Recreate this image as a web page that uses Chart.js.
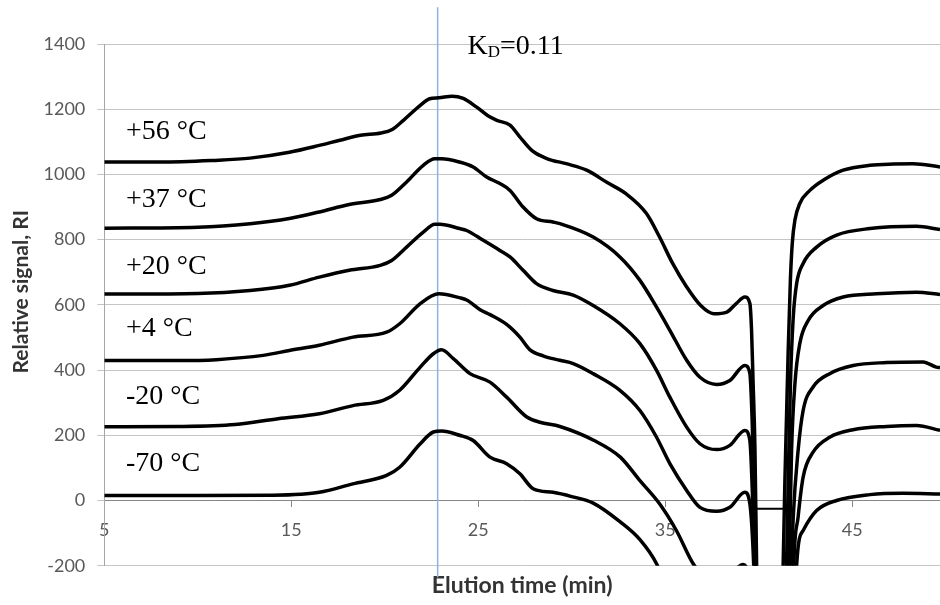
<!DOCTYPE html>
<html>
<head>
<meta charset="utf-8">
<title>Relative signal vs elution time</title>
<script src="https://cdn.jsdelivr.net/npm/chart.js@4.4.1/dist/chart.umd.min.js"></script>
<style>
  html, body { margin: 0; padding: 0; background: #fff; }
  canvas { display: block; }
</style>
</head>
<body>
<canvas id="ri" width="940" height="605"></canvas>
<script>
// axis ticks
const xTicks = [5, 15, 25, 35, 45]
const yTickStep = 200

// one trace per storage temperature: elution time (min) and RI signal
const t56  = [5, 8, 10.8, 12.8, 14.9, 16.5, 17.6, 18.7, 19.8, 20.4, 21.0, 21.9, 22.4, 22.9, 23.6, 24.2, 24.9, 25.5, 26.0, 26.7, 27.2, 27.9, 28.7, 29.7, 30.8, 31.9, 32.9, 34.0, 34.7, 35.4, 36.15, 36.9, 37.6, 38.3, 38.8, 39.26, 39.53, 39.62, 39.7, 39.8, 39.89, 40.05, 41.15, 41.31, 41.4, 41.49, 41.58, 41.7, 41.8, 41.94, 42.2, 42.74, 43.45, 44.52, 45.95, 47.2, 48.26, 49.7]
const ri56 = [1038, 1038, 1043, 1050, 1068, 1089, 1105, 1120, 1127, 1138, 1166, 1212, 1232, 1235, 1240, 1233, 1207, 1181, 1166, 1151, 1117, 1072, 1048, 1033, 1013, 975, 941, 880, 808, 727, 655, 598, 573, 578, 604, 624, 604, 522, 368, 164, -194, -800, -800, -200, 51, 256, 460, 680, 790, 860, 911, 951, 982, 1013, 1028, 1032, 1033, 1023]

const t37  = [5, 10, 12.8, 14.9, 16.5, 18.1, 19.76, 20.37, 21.17, 22.06, 22.68, 23.04, 24.0, 24.73, 25.45, 26.16, 26.7, 27.4, 28.12, 29.0, 29.37, 31.15, 32.58, 33.65, 34.54, 35.25, 36.15, 36.86, 37.75, 38.46, 39.26, 39.53, 39.65, 39.8, 39.92, 40.05, 41.3, 41.49, 41.58, 41.7, 41.85, 42.03, 42.38, 43.1, 44.17, 45.95, 48.44, 49.7]
const ri37 = [835, 838, 849, 865, 885, 908, 923, 936, 977, 1028, 1048, 1048, 1038, 1023, 992, 972, 951, 900, 864, 854, 849, 808, 747, 675, 593, 522, 430, 378, 356, 368, 414, 390, 250, -50, -400, -800, -800, -200, 51, 358, 562, 665, 727, 777, 814, 834, 841, 831]

const t20  = [5, 10, 12.8, 14.9, 16.5, 18.1, 19.76, 20.37, 21.17, 22.06, 22.68, 22.95, 24.0, 24.38, 25.27, 26.16, 26.7, 27.4, 28.12, 29.0, 30.08, 31.15, 32.58, 33.65, 34.54, 35.25, 36.15, 36.86, 37.75, 38.46, 39.26, 39.53, 39.68, 39.85, 40.0, 41.45, 41.63, 41.76, 41.94, 42.2, 42.65, 43.45, 44.52, 46.3, 48.44, 49.7]
const ri20 = [633, 635, 644, 660, 685, 706, 721, 736, 777, 823, 847, 847, 834, 828, 798, 767, 747, 706, 665, 644, 630, 598, 542, 481, 399, 317, 225, 174, 156, 169, 215, 184, 0, -300, -800, -800, -200, 153, 358, 481, 552, 598, 624, 634, 639, 632]

const t04  = [5, 9, 11, 13.5, 14.9, 16.5, 18.3, 20.1, 20.8, 21.9, 22.9, 24.0, 24.38, 25.1, 25.63, 26.52, 27.23, 27.77, 28.5, 29.37, 30.08, 31.15, 32.58, 33.65, 34.54, 35.25, 36.15, 36.86, 37.75, 38.46, 39.26, 39.53, 39.7, 39.85, 40.0, 41.55, 41.76, 41.85, 42.11, 42.38, 42.91, 43.8, 45.05, 46.84, 48.8, 49.5, 49.7]
const ri04 = [429, 429, 432, 445, 460, 476, 501, 516, 542, 604, 634, 622, 615, 585, 570, 540, 501, 462, 443, 430, 420, 389, 338, 276, 194, 113, 31, -21, -33, -21, 25, -10, -150, -400, -800, -800, -200, -51, 153, 276, 348, 389, 414, 423, 425, 409, 408]

const tm20  = [5, 9, 12, 14.3, 16.5, 18.3, 19.92, 20.8, 21.9, 22.6, 23.04, 23.67, 24.56, 25.63, 26.52, 27.6, 28.3, 29.37, 31.2, 32.6, 33.65, 34.7, 35.6, 36.5, 37.0, 37.75, 38.46, 39.17, 39.45, 39.7, 40.0, 41.65, 41.88, 42.11, 42.38, 42.91, 43.8, 45.05, 46.84, 48.44, 49.7]
const rim20 = [226, 227, 233, 251, 266, 291, 307, 338, 409, 450, 462, 435, 389, 363, 317, 256, 240, 227, 184, 133, 61, -10, -92, -194, -225, -235, -225, -196, -240, -600, -900, -900, -200, -51, 72, 148, 194, 217, 227, 230, 215]

const tm70  = [5, 10, 14, 15.5, 16.5, 18.3, 20.1, 20.8, 21.9, 22.6, 23.04, 24.0, 24.73, 25.63, 26.52, 27.23, 27.94, 29.0, 30.0, 31.15, 32.58, 33.65, 34.54, 35.5, 36.5, 37.75, 38.5, 39.17, 39.5, 39.8, 41.8, 42.03, 42.38, 43.1, 44.17, 45.95, 47.73, 49.7]
const rim70 = [15, 15, 16, 19, 25, 51, 77, 102, 174, 210, 213, 200, 184, 133, 113, 82, 36, 25, 12, -8, -65, -120, -194, -330, -420, -440, -425, -395, -450, -900, -900, -200, -92, -31, 0, 18, 22, 20]

// short flat piece between the two steep flanks
const tFlat  = [39.9, 41.32]
const riFlat = [-25, -25]

// K_D = 0.11 marker
const tKd  = [22.83, 22.83]
const riKd = [1513, -236]

const tempLabels = ['+56 °C', '+37 °C', '+20 °C', '+4 °C', '-20 °C', '-70 °C']
const labelT = 6.16
const labelRI = [1110, 900, 695, 505, 295, 90]
const kdText = { t: 24.43, ri: 1368 }

function pts(xs, ys) {
    return xs.map((v, i) => ({ x: v, y: ys[i] }))
}

function trace(xs, ys) {
    return {
        data: pts(xs, ys),
        xAxisID: 'x',
        borderColor: '#000',
        borderWidth: 3.5,
        pointRadius: 0,
        cubicInterpolationMode: 'monotone'
    }
}

const datasets = [
    trace(t56, ri56),
    trace(t37, ri37),
    trace(t20, ri20),
    trace(t04, ri04),
    trace(tm20, rim20),
    trace(tm70, rim70),
    { data: pts(tFlat, riFlat), xAxisID: 'x', borderColor: '#000', borderWidth: 2, pointRadius: 0 },
    { data: pts(tKd, riKd), xAxisID: 'x', borderColor: '#8db3e2', borderWidth: 1.5, pointRadius: 0, clip: false }
]

// temperature labels, K_D note and the y title
const annotate = {
    id: 'annotate',
    afterDatasetsDraw(chart) {
        const { ctx, chartArea } = chart
        const x = chart.scales.x
        const y = chart.scales.y
        ctx.save()
        ctx.fillStyle = '#000'
        ctx.textAlign = 'left'
        ctx.textBaseline = 'alphabetic'
        ctx.font = '28px "Liberation Serif"'
        tempLabels.forEach((s, i) => {
            ctx.fillText(s, x.getPixelForValue(labelT), y.getPixelForValue(labelRI[i]))
        })

        let px = x.getPixelForValue(kdText.t)
        const py = y.getPixelForValue(kdText.ri)
        ctx.fillText('K', px, py)
        px += ctx.measureText('K').width
        ctx.font = '17px "Liberation Serif"'
        ctx.fillText('D', px, py + 3)
        px += ctx.measureText('D').width
        ctx.font = '28px "Liberation Serif"'
        ctx.fillText('=0.11', px, py)

        ctx.translate(21, chartArea.top + (chartArea.bottom - chartArea.top) * 0.475)
        ctx.rotate(-Math.PI / 2)
        ctx.textAlign = 'center'
        ctx.textBaseline = 'middle'
        ctx.font = 'bold 21px Lato'
        ctx.fillStyle = '#333'
        ctx.fillText('Relative signal, RI', 0, 0)
        ctx.restore()
    }
}

const tickFont = { family: 'Lato', size: 18 }

new Chart(document.getElementById('ri'), {
    type: 'line',
    data: { datasets: datasets },
    plugins: [annotate],
    options: {
        responsive: false,
        animation: false,
        events: [],
        layout: { padding: { top: 44, right: 0, bottom: 0, left: 0 } },
        plugins: { legend: { display: false }, tooltip: { enabled: false } },
        scales: {
            x: {
                type: 'linear',
                min: 5,
                max: 49.7,
                position: { y: 0 },
                afterBuildTicks: s => { s.ticks = xTicks.map(v => ({ value: v })) },
                ticks: { font: tickFont, color: '#595959', padding: 13, maxRotation: 0 },
                grid: { drawOnChartArea: false, tickLength: 6, color: '#868686' },
                border: { color: '#868686' }
            },
            xTitle: {
                type: 'linear',
                position: 'bottom',
                min: 5,
                max: 49.7,
                ticks: { display: false },
                grid: { display: false, drawTicks: false },
                border: { display: false },
                title: {
                    display: true,
                    text: 'Elution time (min)',
                    color: '#333',
                    font: { family: 'Lato', size: 23, weight: 'bold' },
                    padding: { top: 0, bottom: 6 }
                },
                afterFit: s => { s.height = 39.3 }
            },
            y: {
                min: -200,
                max: 1400,
                ticks: {
                    stepSize: yTickStep,
                    font: tickFont,
                    color: '#595959',
                    padding: 12,
                    callback: v => String(v)
                },
                grid: { color: '#c4c4c4', tickLength: 7 },
                border: { color: '#a6a6a6' },
                afterFit: s => { s.width = 104.3 }
            }
        }
    }
})
</script>
</body>
</html>
